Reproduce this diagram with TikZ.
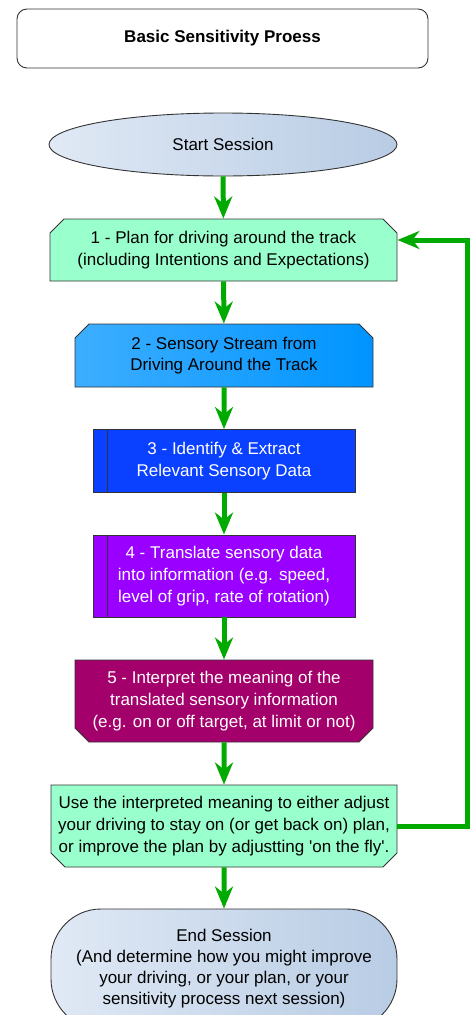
\documentclass[tikz,border=0pt]{standalone}
\usepackage{fontspec}
\setmainfont{Liberation Sans}
\usetikzlibrary{shapes.misc,shapes.geometric,arrows.meta}
\definecolor{mint}{HTML}{99FFCC}
\definecolor{flowgreen}{HTML}{00AA00}
\definecolor{paleblue}{HTML}{E0E9F5}
\definecolor{greyblue}{HTML}{B8CCE4}
\definecolor{skyA}{HTML}{3DAEFF}
\definecolor{skyB}{HTML}{0094FF}
\definecolor{royal}{HTML}{0A40FF}
\definecolor{violet}{HTML}{9900FF}
\definecolor{plum}{HTML}{A3006B}
\begin{document}
\begin{tikzpicture}[x=1pt,y=-1pt,
	box/.style={draw=black!80,line width=0.9pt,align=center,inner sep=0pt,font=\fontsize{17}{21.7}\selectfont},
	topcut/.style={chamfered rectangle,chamfered rectangle corners={north west,north east},chamfered rectangle sep=7pt},
	botcut/.style={chamfered rectangle,chamfered rectangle corners={south west,south east},chamfered rectangle sep=7pt},
	flow/.style={draw=flowgreen,line width=5pt,-{Stealth[length=22pt,width=18pt,inset=7pt]}}]
	\useasboundingbox (0,0) rectangle (473,1015);
	
	%title
	\node[box,rounded corners=10pt,minimum width=411pt,minimum height=59pt,font=\fontsize{17}{20}\selectfont\bfseries] (title) at (222.5,38.5) {Basic Sensitivity Proess};
	
	%start and end
	\node[box,ellipse,left color=paleblue,right color=greyblue,minimum width=348pt,minimum height=63pt] (start) at (223,144.5) {Start Session};
	\node[box,rounded corners=50pt,left color=paleblue,right color=greyblue,minimum width=346pt,minimum height=120pt,font=\fontsize{17}{21}\selectfont] (finish) at (224,969) {End Session\\(And determine how you might improve\\your driving, or your plan, or your\\sensitivity process next session)};
	
	%steps
	\node[box,topcut,fill=mint,minimum width=347pt,minimum height=62pt] (plan) at (223.5,250) {1 - Plan for driving around the track\\(including Intentions and Expectations)};
	\node[box,topcut,left color=skyA,right color=skyB,minimum width=298pt,minimum height=63pt] (stream) at (224,355.5) {2 - Sensory Stream from\\Driving Around the Track};
	\node[box,fill=royal,text=white,minimum width=262pt,minimum height=63pt] (extract) at (224,461) {3 - Identify \& Extract\\Relevant Sensory Data};
	\node[box,fill=violet,text=white,minimum width=262pt,minimum height=82pt] (translate) at (224,576) {4 - Translate sensory data\\into information (e.g. speed,\\level of grip, rate of rotation)};
	\node[box,botcut,fill=plum,text=white,minimum width=298pt,minimum height=82pt] (interpret) at (224,701) {5 - Interpret the meaning of the\\translated sensory information\\(e.g. on or off target, at limit or not)};
	\node[box,botcut,fill=mint,minimum width=346pt,minimum height=82pt] (adjust) at (224,826) {Use the interpreted meaning to either adjust\\your driving to stay on (or get back on) plan,\\or improve the plan by adjustting \textquotesingle on the fly\textquotesingle.};
	
	%inner bars
	\draw[black!80,line width=0.9pt] ([xshift=15pt]extract.north west) -- ([xshift=15pt]extract.south west);
	\draw[black!80,line width=0.9pt] ([xshift=15pt]translate.north west) -- ([xshift=15pt]translate.south west);
	
	%arrows
	\draw[flow] (start) -- (plan);
	\draw[flow] (plan) -- (stream);
	\draw[flow] (stream) -- (extract);
	\draw[flow] (extract) -- (translate);
	\draw[flow] (translate) -- (interpret);
	\draw[flow] (interpret) -- (adjust);
	\draw[flow] (adjust) -- (finish);
	\draw[flow] (adjust.east) -- ++(70,0) |- ([yshift=10pt]plan.east); %feedback loop
\end{tikzpicture}
\end{document}
